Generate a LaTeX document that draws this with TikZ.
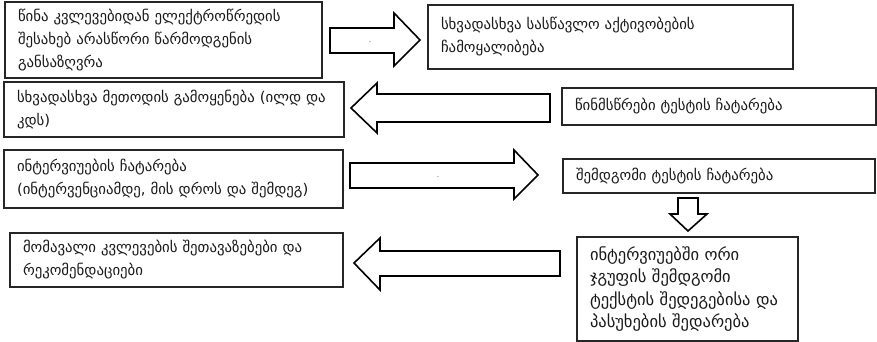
\documentclass[tikz,border=0pt]{standalone}
\usepackage{fontspec}
\setmainfont{DejaVu Sans}
\begin{document}
\begin{tikzpicture}[x=1pt,y=1pt,
  box/.style={draw=black!85, line width=1.2pt, fill=white, inner xsep=13pt, inner ysep=0pt, outer sep=0pt, align=left, text=black!90,
    font=\fontsize{14.8}{23}\selectfont},
  blockarrow/.style={draw=black, line width=1.6pt, fill=white, line join=miter},
  tick/.style={font=\fontsize{6}{6}\selectfont, text=black!60, inner sep=0pt}]
\useasboundingbox (0,0) rectangle (877,-342);
% boxes
\node[box, minimum width=317, minimum height=76, text width=291] (b1) at (163.5,-40)
  {წინა კვლევებიდან ელექტროწრედის\\შესახებ არასწორი წარმოდგენის\\განსაზღვრა};
\node[box, minimum width=365, minimum height=64, text width=339] (b2) at (610.5,-37)
  {სხვადასხვა სასწავლო აქტივობების\\ჩამოყალიბება};
\node[box, minimum width=338, minimum height=55, text width=314] (b3) at (174,-109.5)
  {სხვადასხვა მეთოდის გამოყენება (ილდ და\\კდს)};
\node[box, minimum width=314, minimum height=37, text width=288] (b4) at (719,-106.5)
  {წინმსწრები ტესტის ჩატარება};
\node[box, minimum width=337, minimum height=58, text width=313] (b5) at (173.5,-179)
  {ინტერვიუების ჩატარება\\(ინტერვენციამდე, მის დროს და შემდეგ)};
\node[box, minimum width=312, minimum height=34, text width=286] (b6) at (719,-176)
  {შემდგომი ტესტის ჩატარება};
\node[box, minimum width=333, minimum height=54, text width=307] (b7) at (176.5,-260)
  {მომავალი კვლევების შეთავაზებები და\\რეკომენდაციები};
\node[box, minimum width=221, minimum height=104, text width=195, font=\fontsize{16.5}{22.5}\selectfont] (b8) at (687.5,-289)
  {ინტერვიუებში ორი\\ჯგუფის შემდგომი\\ტექსტის შედეგებისა და\\პასუხების შედარება};
% block arrows
\draw[blockarrow] (330,-28) -- (394,-28) -- (394,-13) -- (420,-40) -- (394,-66) -- (394,-53) -- (330,-53) -- cycle;
\node[tick] (t1) at (370,-43) {-};
\draw[blockarrow] (550,-94) -- (377,-94) -- (377,-83) -- (351,-108) -- (377,-133) -- (377,-122) -- (550,-122) -- cycle;
\draw[blockarrow] (350,-163) -- (514,-163) -- (514,-150) -- (538,-175) -- (514,-199) -- (514,-188) -- (350,-188) -- cycle;
\node[tick] (t2) at (438,-178) {-};
\draw[blockarrow] (678,-198) -- (698,-198) -- (698,-214) -- (707,-214) -- (688,-231) -- (670,-214) -- (678,-214) -- cycle;
\draw[blockarrow] (560,-251) -- (380,-251) -- (380,-238) -- (354,-263) -- (380,-290) -- (380,-276) -- (560,-276) -- cycle;
\end{tikzpicture}
\end{document}
